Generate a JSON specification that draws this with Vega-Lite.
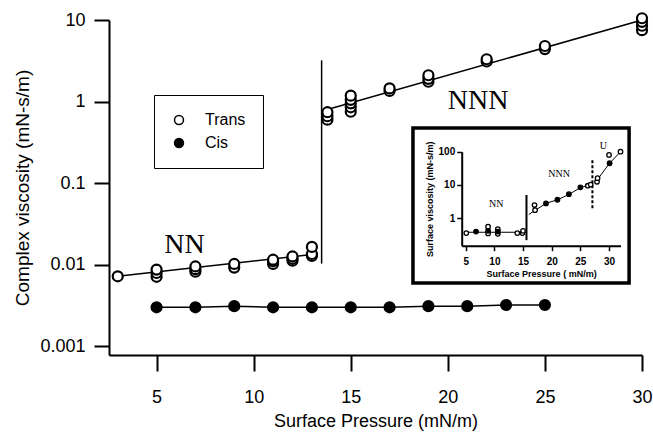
{
  "$schema": "https://vega.github.io/schema/vega-lite/v6.json",
  "width": 533,
  "height": 335,
  "autosize": "none",
  "padding": {"left": 109, "top": 20, "right": 11, "bottom": 82},
  "background": "white",
  "config": {
    "view": {"stroke": null},
    "font": "Liberation Sans",
    "axis": {"grid": false, "domainColor": "black", "tickColor": "black", "labelColor": "black", "titleColor": "black", "titleFontWeight": "normal", "labelFlush": false, "labelOverlap": false}
  },
  "datasets": {
    "main": [
      {"p": 3, "v": 0.0072, "s": "Trans"},
      {"p": 5, "v": 0.0071, "s": "Trans"}, {"p": 5, "v": 0.0079, "s": "Trans"}, {"p": 5, "v": 0.0087, "s": "Trans"},
      {"p": 7, "v": 0.0082, "s": "Trans"}, {"p": 7, "v": 0.0088, "s": "Trans"}, {"p": 7, "v": 0.0095, "s": "Trans"},
      {"p": 9, "v": 0.0092, "s": "Trans"}, {"p": 9, "v": 0.0102, "s": "Trans"},
      {"p": 11, "v": 0.0102, "s": "Trans"}, {"p": 11, "v": 0.011, "s": "Trans"}, {"p": 11, "v": 0.0115, "s": "Trans"},
      {"p": 12, "v": 0.0112, "s": "Trans"}, {"p": 12, "v": 0.0118, "s": "Trans"}, {"p": 12, "v": 0.0126, "s": "Trans"},
      {"p": 13, "v": 0.0128, "s": "Trans"}, {"p": 13, "v": 0.0135, "s": "Trans"}, {"p": 13, "v": 0.0165, "s": "Trans"},
      {"p": 13.8, "v": 0.6, "s": "Trans"}, {"p": 13.8, "v": 0.66, "s": "Trans"}, {"p": 13.8, "v": 0.74, "s": "Trans"},
      {"p": 15, "v": 0.75, "s": "Trans"}, {"p": 15, "v": 0.85, "s": "Trans"}, {"p": 15, "v": 0.95, "s": "Trans"}, {"p": 15, "v": 1.05, "s": "Trans"}, {"p": 15, "v": 1.18, "s": "Trans"},
      {"p": 17, "v": 1.35, "s": "Trans"}, {"p": 17, "v": 1.45, "s": "Trans"},
      {"p": 19, "v": 1.75, "s": "Trans"}, {"p": 19, "v": 1.9, "s": "Trans"}, {"p": 19, "v": 2.1, "s": "Trans"},
      {"p": 22, "v": 3.1, "s": "Trans"}, {"p": 22, "v": 3.3, "s": "Trans"},
      {"p": 25, "v": 4.4, "s": "Trans"}, {"p": 25, "v": 4.8, "s": "Trans"},
      {"p": 30, "v": 7.5, "s": "Trans"}, {"p": 30, "v": 8.5, "s": "Trans"}, {"p": 30, "v": 9.5, "s": "Trans"}, {"p": 30, "v": 10.5, "s": "Trans"},
      {"p": 5, "v": 0.003, "s": "Cis"}, {"p": 7, "v": 0.003, "s": "Cis"}, {"p": 9, "v": 0.0031, "s": "Cis"},
      {"p": 11, "v": 0.003, "s": "Cis"}, {"p": 13, "v": 0.003, "s": "Cis"}, {"p": 15, "v": 0.003, "s": "Cis"},
      {"p": 17, "v": 0.003, "s": "Cis"}, {"p": 19, "v": 0.0031, "s": "Cis"}, {"p": 21, "v": 0.0031, "s": "Cis"},
      {"p": 23, "v": 0.0032, "s": "Cis"}, {"p": 25, "v": 0.0032, "s": "Cis"}
    ],
    "fits": [
      {"p": 3, "v": 0.0072, "seg": "NN"}, {"p": 13, "v": 0.0133, "seg": "NN"},
      {"p": 13.8, "v": 0.8, "seg": "NNN"}, {"p": 30, "v": 10, "seg": "NNN"}
    ],
    "mainRule": [{"p": 13.5, "v1": 0.0103, "v2": 3.2}],
    "mainLabels": [
      {"p": 6.44, "v": 0.014, "t": "NN"},
      {"p": 21.56, "v": 0.82, "t": "NNN"}
    ],
    "insetBox": [{"x1": -4.2, "x2": 33.5, "y1": 515, "y2": 0.0114}],
    "insetPts": [
      {"p": 5.1, "v": 0.36, "f": "open"}, {"p": 8.9, "v": 0.56, "f": "open"}, {"p": 8.9, "v": 0.35, "f": "open"},
      {"p": 10.6, "v": 0.47, "f": "open"}, {"p": 10.6, "v": 0.34, "f": "open"}, {"p": 14.0, "v": 0.36, "f": "open"},
      {"p": 14.9, "v": 0.36, "f": "open"}, {"p": 15.0, "v": 0.42, "f": "open"},
      {"p": 17.0, "v": 2.5, "f": "open"}, {"p": 17.1, "v": 1.75, "f": "open"},
      {"p": 26.3, "v": 9.5, "f": "open"}, {"p": 26.8, "v": 10.3, "f": "open"},
      {"p": 27.9, "v": 12.5, "f": "open"}, {"p": 28.0, "v": 16, "f": "open"},
      {"p": 30.0, "v": 80, "f": "open"}, {"p": 32.0, "v": 100, "f": "open"},
      {"p": 6.8, "v": 0.4, "f": "filled"}, {"p": 8.9, "v": 0.42, "f": "filled"}, {"p": 10.6, "v": 0.4, "f": "filled"},
      {"p": 19.0, "v": 2.8, "f": "filled"}, {"p": 21.0, "v": 3.6, "f": "filled"}, {"p": 23.0, "v": 5.3, "f": "filled"},
      {"p": 25.0, "v": 8.5, "f": "filled"}, {"p": 30.1, "v": 45, "f": "filled"}
    ],
    "insetLine": [
      {"p": 5, "v": 0.38, "seg": "NN"}, {"p": 15.5, "v": 0.38, "seg": "NN"},
      {"p": 16, "v": 1.3, "seg": "NNN"}, {"p": 19, "v": 2.8, "seg": "NNN"}, {"p": 21, "v": 3.6, "seg": "NNN"},
      {"p": 23, "v": 5.2, "seg": "NNN"}, {"p": 25, "v": 8.3, "seg": "NNN"}, {"p": 26.8, "v": 10.3, "seg": "NNN"},
      {"p": 27.9, "v": 14, "seg": "U"}, {"p": 30.1, "v": 45, "seg": "U"}, {"p": 32, "v": 100, "seg": "U"}
    ],
    "insetRules": [
      {"p": 15.6, "v1": 0.22, "v2": 5.0, "k": "solid"},
      {"p": 27.1, "v1": 2.0, "v2": 56, "k": "dashed"}
    ],
    "insetLabels": [
      {"p": 10.34, "v": 2.14, "t": "NN", "w": "normal"},
      {"p": 21.3, "v": 17.4, "t": "NNN", "w": "normal"},
      {"p": 29.0, "v": 120, "t": "U", "w": "bold"}
    ]
  },
  "layer": [
    {
      "layer": [
        {
          "data": {"name": "fits"},
          "mark": {"type": "line", "color": "black", "strokeWidth": 1.5},
          "encoding": {
            "x": {"field": "p", "type": "quantitative", "scale": {"domain": [2.55, 30], "nice": false, "zero": false},
              "axis": {"title": "Surface Pressure (mN/m)", "values": [5, 10, 15, 20, 25, 30], "domainWidth": 2, "tickWidth": 2, "tickSize": 16, "labelFontSize": 18, "labelPadding": 17, "titleFontSize": 18, "titlePadding": 6}},
            "y": {"field": "v", "type": "quantitative", "scale": {"type": "log", "domain": [0.00078, 10], "nice": false},
              "axis": {"title": "Complex viscosity (mN-s/m)", "values": [0.001, 0.01, 0.1, 1, 10], "format": "~g", "domainWidth": 2, "tickWidth": 2, "tickSize": 15, "labelFontSize": 18, "labelPadding": 9, "titleFontSize": 19, "titlePadding": 7}},
            "detail": {"field": "seg"}
          }
        },
        {
          "data": {"name": "mainRule"},
          "mark": {"type": "rule", "color": "black", "strokeWidth": 1.5},
          "encoding": {
            "x": {"field": "p", "type": "quantitative"},
            "y": {"field": "v1", "type": "quantitative"},
            "y2": {"field": "v2"}
          }
        },
        {
          "data": {"name": "main"},
          "transform": [{"filter": "datum.s == 'Cis'"}],
          "mark": {"type": "line", "color": "black", "strokeWidth": 1.5},
          "encoding": {
            "x": {"field": "p", "type": "quantitative"},
            "y": {"field": "v", "type": "quantitative"}
          }
        },
        {
          "data": {"name": "main"},
          "mark": {"type": "point", "shape": "circle", "filled": true, "stroke": "black", "strokeWidth": 2.2, "size": 100, "opacity": 1},
          "encoding": {
            "x": {"field": "p", "type": "quantitative"},
            "y": {"field": "v", "type": "quantitative"},
            "fill": {"field": "s", "type": "nominal", "scale": {"domain": ["Trans", "Cis"], "range": ["white", "black"]},
              "legend": {"orient": "none", "legendX": 45, "legendY": 75, "title": null, "padding": 17, "strokeColor": "black", "symbolStrokeColor": "black", "symbolStrokeWidth": 1.5, "symbolSize": 80, "symbolType": "circle", "labelFontSize": 16, "labelColor": "black", "labelOffset": 18, "rowPadding": 7}}
          }
        },
        {
          "data": {"name": "mainLabels"},
          "mark": {"type": "text", "font": "Liberation Serif", "fontSize": 28, "align": "center", "baseline": "alphabetic", "color": "black"},
          "encoding": {
            "x": {"field": "p", "type": "quantitative"},
            "y": {"field": "v", "type": "quantitative"},
            "text": {"field": "t"}
          }
        }
      ]
    },
    {
      "layer": [
        {
          "data": {"name": "insetBox"},
          "mark": {"type": "rect", "fill": "white", "stroke": "black", "strokeWidth": 3.5},
          "encoding": {
            "x": {"field": "x1", "type": "quantitative", "scale": {"domain": [4.3, 32], "range": [352.7, 511.5], "nice": false, "zero": false},
              "axis": {"orient": "bottom", "offset": -109.3, "zindex": 2, "title": "Surface Pressure ( mN/m)", "values": [5, 10, 15, 20, 25, 30], "domainWidth": 2, "tickWidth": 1.5, "tickSize": 5, "labelFontSize": 10, "labelFontWeight": "bold", "labelPadding": 6, "titleFontSize": 9, "titleFontWeight": "bold", "titlePadding": 3}},
            "x2": {"field": "x2"},
            "y": {"field": "y1", "type": "quantitative", "scale": {"type": "log", "domain": [0.15, 100], "range": [225.7, 131.7], "nice": false},
              "axis": {"orient": "left", "offset": -352.7, "zindex": 2, "title": "Surface viscosity (mN-s/m)", "values": [1, 10, 100], "format": "~g", "domainWidth": 2, "tickWidth": 1.5, "tickSize": 5, "labelFontSize": 10, "labelFontWeight": "bold", "labelPadding": 2, "titleFontSize": 9, "titleFontWeight": "bold", "titlePadding": 4}},
            "y2": {"field": "y2"}
          }
        },
        {
          "data": {"name": "insetLine"},
          "mark": {"type": "line", "color": "black", "strokeWidth": 1},
          "encoding": {
            "x": {"field": "p", "type": "quantitative"},
            "y": {"field": "v", "type": "quantitative"},
            "detail": {"field": "seg"}
          }
        },
        {
          "data": {"name": "insetRules"},
          "transform": [{"filter": "datum.k == 'solid'"}],
          "mark": {"type": "rule", "color": "black", "strokeWidth": 2},
          "encoding": {
            "x": {"field": "p", "type": "quantitative"},
            "y": {"field": "v1", "type": "quantitative"},
            "y2": {"field": "v2"}
          }
        },
        {
          "data": {"name": "insetRules"},
          "transform": [{"filter": "datum.k == 'dashed'"}],
          "mark": {"type": "rule", "color": "black", "strokeWidth": 2, "strokeDash": [3, 2]},
          "encoding": {
            "x": {"field": "p", "type": "quantitative"},
            "y": {"field": "v1", "type": "quantitative"},
            "y2": {"field": "v2"}
          }
        },
        {
          "data": {"name": "insetPts"},
          "transform": [{"filter": "datum.f == 'open'"}],
          "mark": {"type": "point", "shape": "circle", "filled": true, "fill": "white", "stroke": "black", "strokeWidth": 1.3, "size": 20, "opacity": 1},
          "encoding": {
            "x": {"field": "p", "type": "quantitative"},
            "y": {"field": "v", "type": "quantitative"}
          }
        },
        {
          "data": {"name": "insetPts"},
          "transform": [{"filter": "datum.f == 'filled'"}],
          "mark": {"type": "point", "shape": "circle", "filled": true, "fill": "black", "stroke": "black", "strokeWidth": 1.3, "size": 20, "opacity": 1},
          "encoding": {
            "x": {"field": "p", "type": "quantitative"},
            "y": {"field": "v", "type": "quantitative"}
          }
        },
        {
          "data": {"name": "insetLabels"},
          "mark": {"type": "text", "font": "Liberation Serif", "fontSize": 10, "align": "center", "baseline": "alphabetic", "color": "black"},
          "encoding": {
            "x": {"field": "p", "type": "quantitative"},
            "y": {"field": "v", "type": "quantitative"},
            "text": {"field": "t"},
            "fontWeight": {"field": "w", "type": "nominal", "scale": null}
          }
        }
      ]
    }
  ],
  "resolve": {"scale": {"x": "independent", "y": "independent"}, "axis": {"x": "independent", "y": "independent"}}
}
